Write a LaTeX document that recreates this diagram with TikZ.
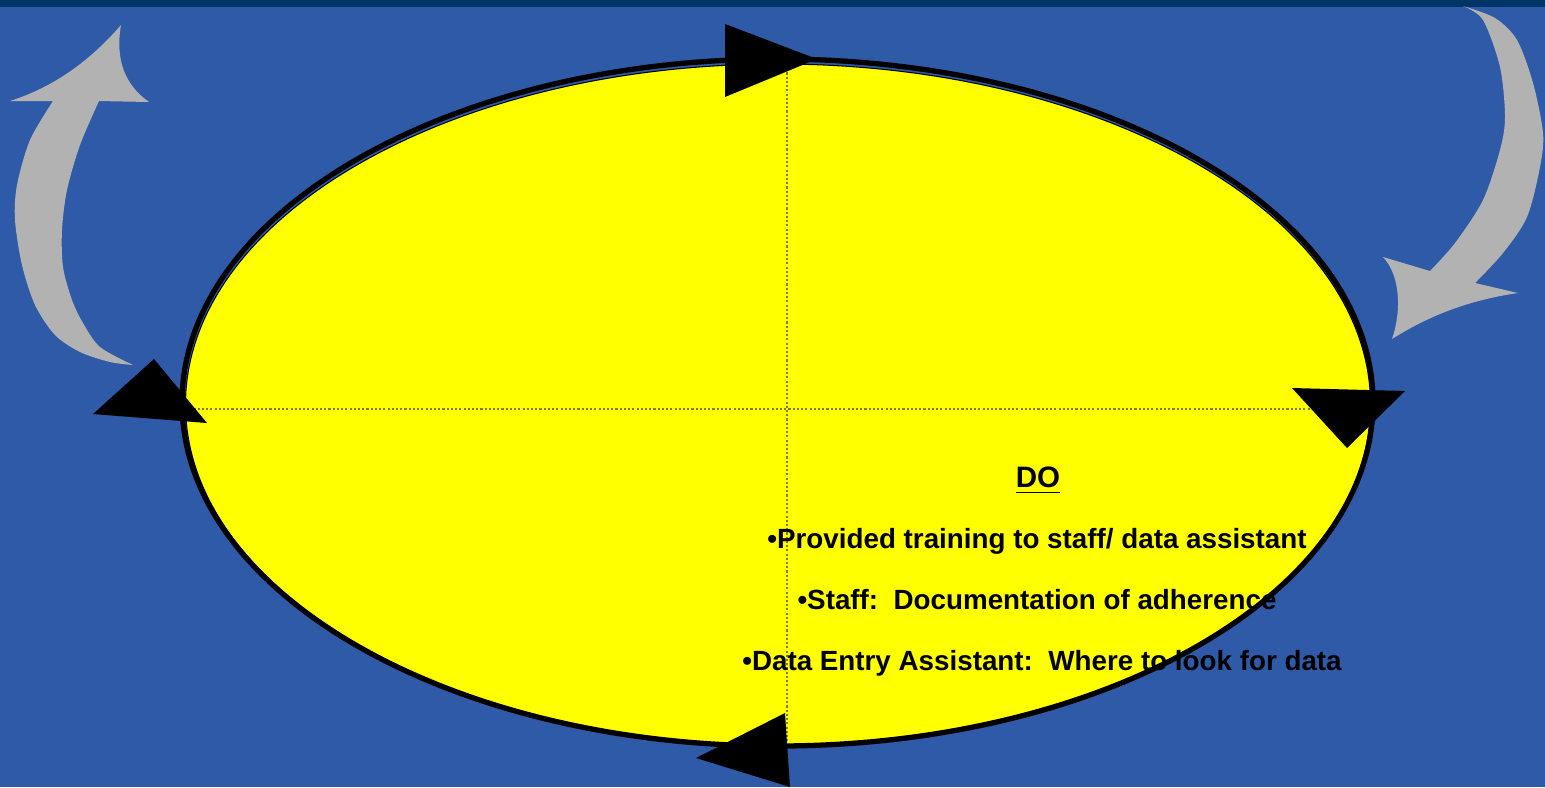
\documentclass[tikz,border=0pt]{standalone}
\usepackage{fontspec}
\setmainfont{Liberation Sans}
\frenchspacing
\definecolor{slideblue}{RGB}{46,90,167}
\definecolor{topbar}{RGB}{0,51,102}
\definecolor{arrowgray}{RGB}{178,178,178}
\definecolor{dotline}{RGB}{128,128,0}
\definecolor{cycleyellow}{RGB}{255,255,0}

\begin{document}
\begin{tikzpicture}[x=0.01cm, y=-0.01cm, every node/.style={font=\fontsize{7.9}{9}\selectfont\bfseries, inner sep=0pt}]
    \useasboundingbox (0,0) rectangle (1545,787);
    \fill[slideblue] (0,0) rectangle (1545,787);
    \fill[topbar] (0,0) rectangle (1545,7);
    % the cycle
    \filldraw[fill=cycleyellow, draw=black, line width=0.3pt] (778,404.5) ellipse [x radius=592.5, y radius=340.5];
    \draw[black, line width=1.5pt] (777.5,402.5) ellipse [x radius=595.5, y radius=343.5];
    \draw[dotline, line width=0.35pt, dash pattern=on 0.6pt off 0.6pt] (185,409) -- (1370,409) (787,64) -- (787,744);
    % grey arrows outside
    \fill[arrowgray] plot[smooth] coordinates {(133,365) (110,362) (80,352) (55,335) (35,305) (22,265) (15,220) (17,185) (30,140) (53,101)}
        -- (10,101) .. controls (60,85) and (95,55) .. (121,25)
        .. controls (115,60) and (125,85) .. (149,102) -- (99,101)
        -- plot[smooth] coordinates {(99,101) (80,145) (67,190) (62,230) (63,267) (72,300) (83,323) (100,347) (133,365)} -- cycle;
    \fill[arrowgray] plot[smooth] coordinates {(1463,6) (1495,18) (1517,40) (1533,83) (1543,133) (1540,167) (1527,217) (1503,253) (1475,283)}
        -- (1518,293) .. controls (1470,300) and (1430,315) .. (1392,339)
        .. controls (1402,310) and (1400,275) .. (1383,257) -- (1430,271)
        -- plot[smooth] coordinates {(1430,271) (1455,243) (1483,200) (1500,150) (1505,117) (1500,67) (1483,20) (1463,6)} -- cycle;
    % text of the DO step
    \node[anchor=base, font=\fontsize{8.4}{9}\selectfont\bfseries] (dohead) at (1038,487) {\underline{DO}};
    \node[anchor=base] (training) at (1037,548) {•Provided training to staff/ data assistant};
    \node[anchor=base] (staff) at (1037,609) {•Staff:~ Documentation of adherence};
    \node[anchor=base] (dataentry) at (1042,670) {•Data Entry Assistant:~ Where to look for data};
    % arrowheads on the cycle
    \fill[black] (725,24) -- (725,97) -- (817,59) -- cycle;
    \fill[black] (1292,388) -- (1405,391) -- (1347,448) -- cycle;
    \fill[black] (785,713) -- (790,787) -- (696,758) -- cycle;
    \fill[black] (207,423) -- (93,414) -- (154,359) -- cycle;
\end{tikzpicture}
\end{document}
